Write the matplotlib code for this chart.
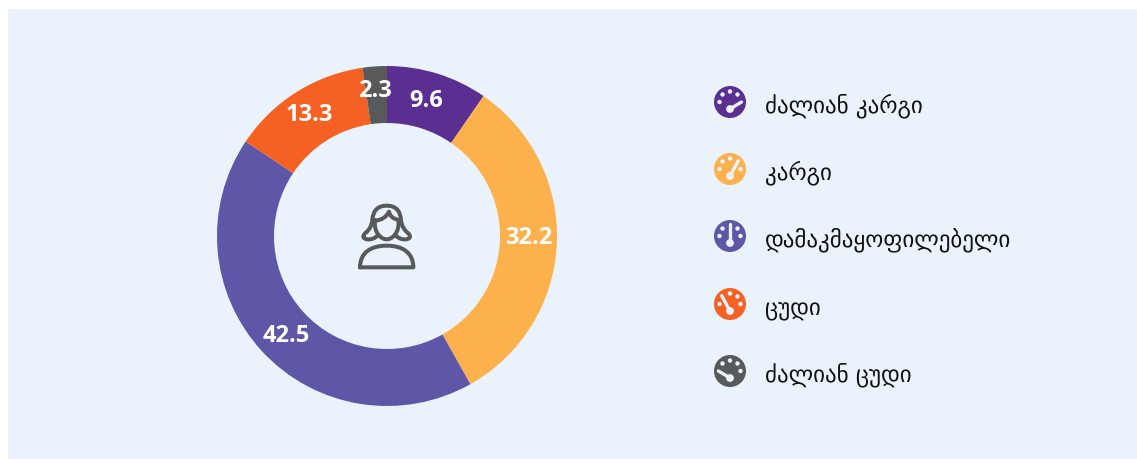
import numpy as np
import matplotlib
matplotlib.use('Agg')
import matplotlib.pyplot as plt
from matplotlib.patches import Circle, Rectangle, PathPatch
from matplotlib.path import Path

labels = ['ძალიან კარგი', 'კარგი', 'დამაკმაყოფილებელი', 'ცუდი', 'ძალიან ცუდი']
values = [9.6, 32.2, 42.5, 13.3, 2.3]
colors = ['#5B2E91', '#FDB14D', '#5E56A6', '#F46123', '#58595B']
bg = '#EAF3FB'

W, H = 1137, 460
fig = plt.figure(figsize=(W / 100, H / 100), dpi=100)
ax = fig.add_axes([0, 0, 1, 1])

# y goes up, so pixel rows from the top are turned with py
def py(y):
    return H - y - 1

def gauge(cx, cy, color, pos):
    ax.add_patch(Circle((cx, py(cy)), 16, fc=color, ec='none', zorder=3))
    dots = [(-10.5, 0), (-7.5, -7.5), (0, -10.5), (7.5, -7.5), (10.5, 0)]
    # the needle takes the place of one of the dots
    for i, (dx, dy) in enumerate(dots):
        if i != pos:
            ax.add_patch(Circle((cx + dx, py(cy + dy)), 2.2, fc=bg, ec='none', zorder=4))
    hub = (cx, cy + 7)
    nx, ny = dots[pos]
    ax.plot([hub[0], cx + nx * 1.1], [py(hub[1]), py(cy + ny * 1.1)], color=bg, lw=2.4,
            solid_capstyle='round', zorder=4)
    ax.add_patch(Circle((hub[0], py(hub[1])), 3.9, fc=bg, ec='none', zorder=4))

def person(x0, y0):
    kw = dict(fc='none', ec='#58595B', lw=2.9, zorder=3, capstyle='round', joinstyle='round')

    def add(pts, codes):
        ax.add_patch(PathPatch(Path([(x0 + x / 3, py(y0 + y / 3)) for x, y in pts], codes), **kw))

    m, c3, c4, ln = Path.MOVETO, Path.CURVE3, Path.CURVE4, Path.LINETO
    # face
    add([(105, 90), (100, 130), (125, 148), (140, 148), (155, 148), (180, 130), (175, 90)],
        [m, c4, c4, c4, c4, c4, c4])
    # fringe
    add([(105, 92), (135, 90), (147, 65), (150, 85), (177, 90)], [m, c3, c3, c3, c3])
    # hair, round the head from one tip to the other
    add([(115, 135), (100, 150), (82, 148), (62, 145), (75, 130), (95, 115), (97, 90),
         (100, 47), (140, 47), (180, 47), (183, 90), (185, 115), (205, 130),
         (218, 145), (198, 148), (180, 150), (165, 135)],
        [m] + [c3] * 16)
    # shoulders
    add([(60, 232), (60, 190), (90, 167), (140, 167), (190, 167), (220, 190), (220, 232), (60, 232)],
        [m, c4, c4, c4, c4, c4, c4, ln])

ax.add_patch(Rectangle((8, 0), W - 8, H - 10, fc=bg, ec='none', zorder=0))

cx, cy = 387, 236
R, r = 170, 113
ax.pie(values, colors=colors, center=(cx, py(cy)), radius=R, startangle=90, counterclock=False,
       wedgeprops=dict(width=R - r, linewidth=0), frame=True)

# values in the ring, with small nudges
mid = np.cumsum(values) - np.array(values) / 2
ang = mid / sum(values) * 2 * np.pi
lr = 143
nudge = [(-3, 1), (-1, -6), (4.5, 2), (-1, -1), (-2, -3)]
for v, a, (ndx, ndy) in zip(values, ang, nudge):
    ax.text(cx + lr * np.sin(a) + ndx, py(cy) + lr * np.cos(a) - ndy, str(v), color='white',
            fontsize=17, fontweight='bold', family='Open Sans', ha='center', va='center', zorder=5)

person(340, 190)

rows = [102, 169, 236, 304, 371]
for i, (lab, col, y) in enumerate(zip(labels, colors, rows)):
    gauge(730, y, col, 4 - i)
    ax.text(765, py(y + 3), lab, fontsize=16.6, color='#111111', family='DejaVu Sans',
            ha='left', va='center', zorder=3)

ax.set_xlim(0, W)
ax.set_ylim(0, H)
ax.set_aspect('auto')
ax.axis('off')
fig.savefig('out.png', dpi=100, facecolor='white')
